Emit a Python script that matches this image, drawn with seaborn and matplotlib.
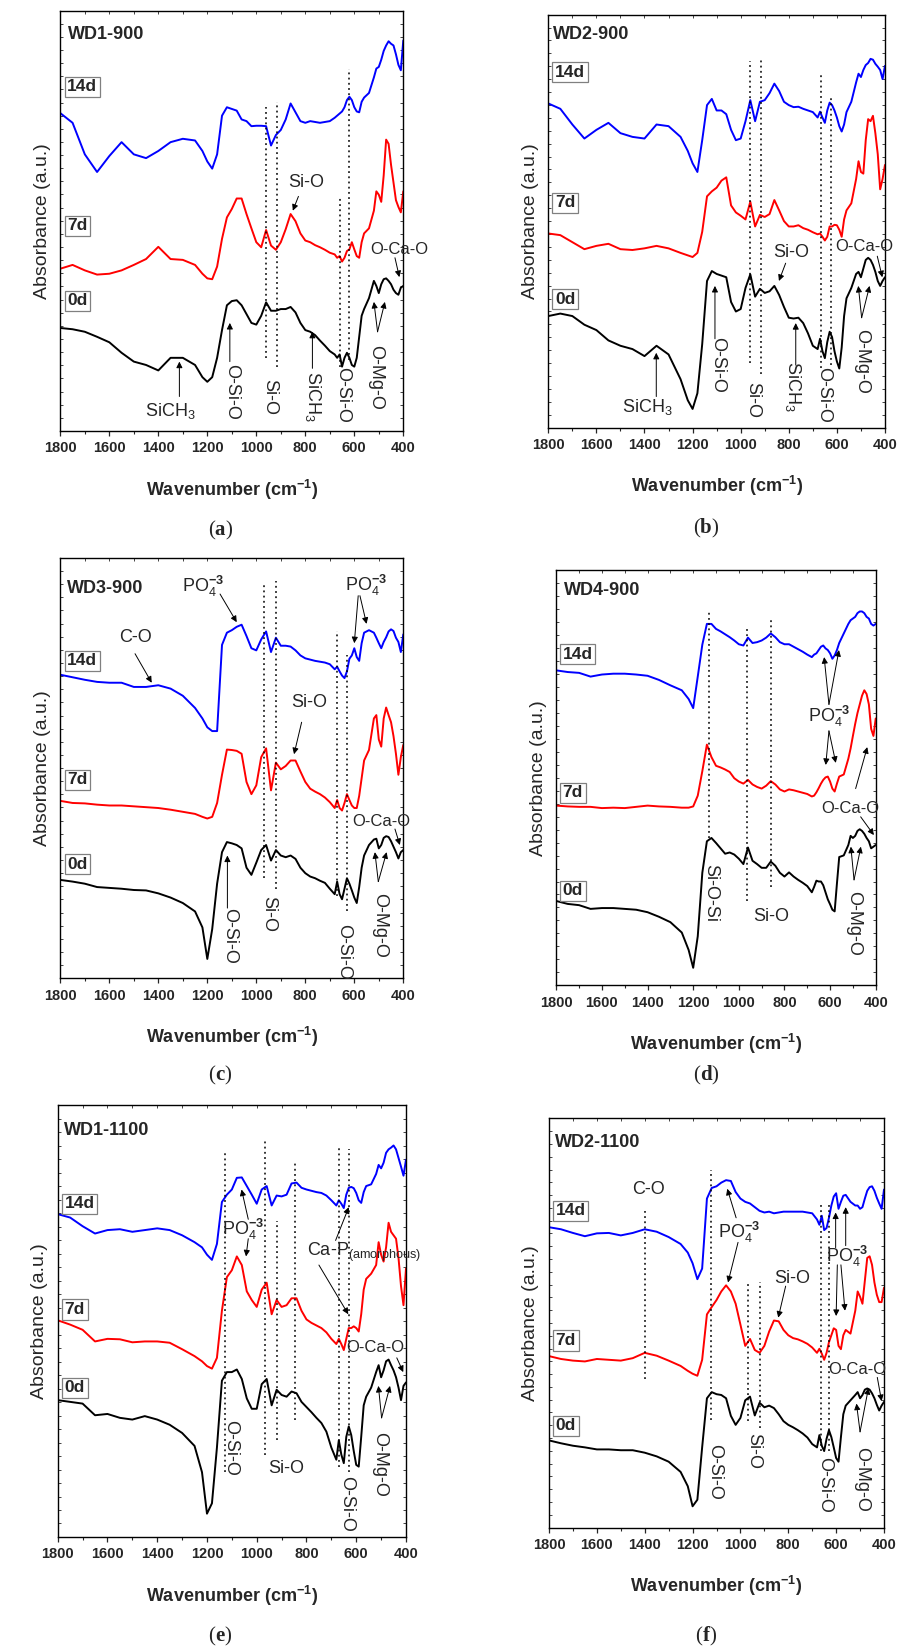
import seaborn as sns
import matplotlib.pyplot as plt
from matplotlib.ticker import MultipleLocator
from matplotlib.offsetbox import TextArea, HPacker, AnnotationBbox


# shared wavenumber grid (cm-1) for every spectrum
wavenumber = [1800, 1750, 1700, 1650, 1600, 1550, 1500, 1450, 1400, 1350, 1300, 1250,
              1220, 1200,
              1180, 1160, 1140, 1120, 1100, 1080, 1060, 1040, 1020, 1000, 980, 960, 940,
              920, 900, 880, 860, 840, 820, 800, 780, 760, 740, 720, 700, 680,
              670, 660, 650, 640, 630, 620, 610, 600, 590, 580, 570, 560,
              540, 520,
              510, 500, 490, 480, 470, 460, 450, 440, 430, 420, 410, 400]

xtick_values = [1800, 1600, 1400, 1200, 1000, 800, 600, 400]
day_labels = ["14d", "7d", "0d"]

# absorbance (a.u., stacked offsets as in the figure)
a_0d = [24.5, 24.2, 23.6, 22.4, 21.1, 18.6, 16.5, 15.7, 14.4, 17.4, 17.4, 15.7,
        12.8, 11.7,
        12.8, 17.4, 24.0, 29.9, 30.9, 31.1, 29.9, 27.8, 25.7, 25.3, 27.4, 30.6, 28.6,
        28.6, 29.0, 29.0, 29.5, 28.2, 25.7, 24.0, 23.6, 22.8, 21.5, 20.3, 19.0, 18.2,
        17.4, 18.2, 15.3, 17.4, 18.6, 17.4, 15.7, 15.3, 17.4, 22.4, 27.4, 29.0,
        31.6, 35.7,
        34.5, 32.8, 34.9, 36.1, 36.3, 35.7, 34.9, 33.6, 32.8, 32.4, 34.1, 34.5]
a_7d = [38.6, 39.5, 38.2, 37.2, 37.4, 38.2, 39.5, 40.9, 43.8, 40.9, 40.7, 39.5,
        37.4, 36.3,
        36.1, 39.1, 45.7, 50.8, 52.8, 55.3, 55.3, 51.6, 48.2, 44.9, 43.7, 47.8, 44.1,
        43.1, 44.9, 48.0, 51.6, 49.9, 47.0, 45.3, 44.9, 44.2, 43.7, 43.1, 42.4, 42.0,
        41.2, 41.6, 40.3, 41.2, 42.8, 43.2, 44.9, 43.2, 41.6, 41.2, 44.9, 47.0,
        48.2, 52.4,
        57.0, 56.2, 54.5, 60.8, 69.3, 68.3, 63.3, 59.1, 54.9, 53.3, 52.0, 57.0]
a_14d = [75.6, 73.3, 65.8, 61.6, 65.4, 68.7, 65.8, 64.9, 66.6, 68.7, 69.5, 69.1,
         66.6, 64.1,
         62.4, 65.8, 75.0, 77.0, 76.6, 76.2, 74.1, 73.7, 72.5, 72.6, 72.6, 72.5, 67.9,
         70.4, 71.6, 74.1, 77.9, 75.8, 73.7, 73.3, 73.7, 73.5, 73.3, 73.5, 73.7, 74.5,
         75.0, 75.5, 76.0, 77.0, 78.7, 79.5, 78.7, 77.0, 76.0, 75.8, 78.3, 79.3,
         80.4, 84.1,
         86.2, 86.6, 88.3, 90.4, 91.7, 92.7, 92.1, 91.7, 89.6, 87.1, 85.8, 92.9]

b_0d = [27.0, 27.6, 27.0, 24.9, 23.6, 21.1, 19.8, 19.0, 17.3, 19.8, 17.7, 11.7,
        6.6, 4.5,
        8.3, 20.2, 35.5, 37.9, 37.2, 36.8, 36.4, 30.4, 28.1, 28.7, 33.8, 37.1, 31.7,
        33.6, 32.6, 33.0, 34.3, 32.1, 29.2, 26.6, 26.4, 26.6, 25.3, 22.8, 19.8, 19.0,
        21.5, 18.5, 16.8, 20.7, 23.2, 21.9, 18.5, 16.0, 14.3, 19.4, 27.0, 31.3,
        33.8, 37.2,
        37.7, 36.4, 38.5, 40.6, 41.1, 40.6, 39.4, 37.7, 35.5, 34.3, 35.5, 36.4]
b_7d = [47.0, 46.6, 44.9, 43.2, 44.0, 44.5, 43.2, 43.0, 43.4, 44.0, 43.4, 42.3,
        41.7, 41.3,
        42.3, 47.4, 56.0, 57.2, 58.1, 59.8, 60.6, 53.8, 52.1, 51.3, 50.4, 54.7, 48.7,
        51.5, 51.0, 51.7, 55.1, 52.6, 50.0, 48.7, 48.7, 49.0, 48.3, 47.9, 47.3, 46.8,
        47.0, 46.2, 45.3, 46.2, 48.7, 48.7, 49.1, 49.0, 47.9, 46.2, 50.4, 52.6,
        54.3, 60.2,
        64.5, 61.9, 61.5, 69.6, 74.7, 74.2, 75.5, 71.3, 66.2, 57.7, 60.2, 63.6]
b_14d = [78.5, 77.2, 73.4, 70.0, 72.1, 73.8, 71.3, 70.4, 70.0, 73.4, 73.0, 70.4,
         67.0, 64.0,
         61.9, 69.6, 78.1, 79.6, 76.8, 76.8, 75.9, 72.1, 69.6, 70.0, 74.2, 79.3, 74.2,
         78.9, 79.3, 81.0, 83.3, 81.5, 78.9, 78.1, 77.6, 77.7, 77.2, 76.8, 76.4, 75.1,
         76.5, 75.1, 73.8, 76.8, 78.7, 78.1, 76.8, 75.1, 73.0, 71.7, 73.4, 76.4,
         78.9, 83.6,
         85.7, 84.9, 86.6, 87.8, 88.3, 89.3, 89.1, 88.1, 87.4, 86.6, 84.4, 87.6]

c_0d = [23.4, 23.0, 22.5, 21.7, 21.5, 21.3, 21.0, 20.9, 20.2, 19.2, 17.9, 15.9,
        12.1, 4.6,
        11.7, 22.5, 30.0, 32.4, 32.1, 31.7, 30.9, 26.3, 24.6, 27.5, 30.5, 31.7, 28.0,
        30.5, 29.2, 28.8, 29.2, 28.4, 26.3, 25.0, 24.2, 23.8, 23.2, 22.7, 21.3, 20.0,
        23.0, 20.0, 18.8, 21.3, 23.8, 22.5, 20.9, 19.2, 17.9, 21.7, 26.3, 29.2,
        31.7, 33.0,
        33.2, 30.9, 31.7, 33.4, 33.8, 33.6, 32.6, 31.3, 30.0, 28.5, 30.0, 30.5]
c_7d = [42.2, 41.7, 41.6, 41.3, 41.1, 41.1, 40.9, 40.7, 40.5, 40.1, 39.6, 39.1,
        38.4, 38.0,
        38.4, 41.7, 48.4, 54.4, 54.3, 54.1, 53.4, 46.7, 43.8, 45.9, 52.6, 54.7, 44.7,
        51.3, 49.7, 50.5, 51.8, 51.8, 49.2, 46.7, 45.1, 44.4, 43.8, 43.0, 41.9, 40.5,
        42.4, 40.5, 39.9, 41.7, 43.8, 42.4, 41.1, 40.5, 40.5, 43.4, 47.6, 51.8,
        54.3, 61.8,
        62.6, 56.8, 55.1, 61.8, 64.4, 62.6, 60.9, 57.6, 53.4, 48.4, 52.6, 55.5]
c_14d = [72.2, 71.6, 71.0, 70.5, 70.3, 70.3, 69.3, 69.3, 69.7, 68.9, 67.2, 64.3,
         61.8, 59.7,
         58.8, 58.8, 79.3, 82.2, 82.8, 83.6, 84.1, 81.4, 78.5, 78.0, 80.6, 82.5, 77.6,
         81.0, 79.1, 79.1, 78.9, 78.0, 76.8, 76.1, 75.8, 75.5, 75.3, 75.1, 74.7, 73.5,
         74.1, 73.0, 72.0, 71.4, 73.0, 76.0, 76.8, 78.5, 76.4, 75.5, 79.7, 82.2,
         82.8, 82.2,
         81.0, 79.7, 78.5, 80.0, 81.1, 82.5, 83.0, 82.6, 81.0, 80.0, 77.6, 81.8]

d_0d = [20.3, 19.6, 19.3, 18.4, 18.6, 18.6, 18.4, 18.2, 17.6, 16.5, 15.2, 12.7,
        8.5, 4.2,
        11.8, 27.1, 34.7, 35.5, 34.3, 33.0, 31.7, 32.0, 31.5, 30.5, 29.2, 33.2, 30.0,
        29.2, 28.3, 28.3, 29.8, 28.8, 27.1, 26.2, 27.2, 26.2, 25.4, 24.7, 23.9, 22.4,
        23.7, 25.2, 25.0, 25.0, 24.1, 22.4, 20.7, 19.5, 18.2, 17.8, 24.5, 30.9,
        31.3, 33.8,
        36.0, 35.5, 36.0, 37.2, 37.6, 37.2, 36.5, 35.5, 34.7, 33.0, 33.4, 33.8]
d_7d = [43.3, 43.1, 43.0, 43.0, 42.7, 42.8, 42.7, 43.0, 43.3, 43.1, 43.0, 42.8,
        42.8, 43.1,
        45.7, 51.6, 58.0, 55.0, 52.9, 52.5, 52.0, 51.4, 49.9, 49.1, 48.6, 49.5, 48.4,
        47.8, 47.4, 48.1, 49.2, 48.4, 47.2, 46.7, 47.2, 47.0, 46.7, 46.4, 46.1, 45.5,
        45.7, 46.5, 47.5, 48.6, 49.5, 50.1, 50.3, 49.1, 47.4, 46.7, 48.6, 50.3,
        50.8, 54.6,
        57.1, 60.1, 63.0, 65.6, 67.7, 69.8, 71.1, 70.2, 67.7, 61.8, 60.1, 64.3]
d_14d = [75.9, 75.5, 75.3, 74.4, 74.9, 75.1, 75.1, 74.9, 74.6, 73.6, 72.3, 71.1,
         69.0, 66.8,
         74.4, 82.1, 87.1, 87.1, 85.9, 85.3, 84.6, 83.9, 83.1, 82.2, 81.9, 83.8, 82.5,
         82.7, 83.1, 83.8, 84.8, 83.9, 82.7, 82.2, 82.2, 81.6, 81.0, 80.4, 79.7, 79.1,
         79.7, 80.0, 80.8, 81.6, 81.9, 81.2, 80.8, 80.0, 78.7, 79.5, 80.8, 82.5,
         84.8, 87.1,
         88.0, 88.4, 88.8, 89.7, 90.1, 90.1, 89.7, 88.8, 88.4, 87.1, 86.7, 87.1]

e_0d = [31.7, 31.3, 30.9, 28.2, 28.5, 27.6, 27.2, 28.0, 27.2, 26.0, 24.1, 21.1,
        15.0, 5.4,
        7.8, 20.7, 36.2, 38.2, 38.2, 38.8, 36.6, 32.1, 29.7, 29.7, 35.4, 36.6, 30.5,
        34.1, 32.9, 32.5, 33.7, 33.3, 31.3, 30.1, 28.9, 27.6, 26.4, 24.4, 20.7, 17.9,
        22.4, 19.1, 17.1, 23.2, 25.6, 23.6, 19.9, 16.7, 16.3, 23.2, 30.5, 32.5,
        34.6, 38.2,
        39.8, 37.0, 38.6, 40.7, 41.1, 39.8, 38.6, 37.0, 34.6, 31.7, 35.0, 35.8]
e_7d = [50.2, 49.2, 48.0, 45.3, 45.9, 45.8, 45.1, 45.3, 45.3, 45.0, 43.5, 41.9,
        40.7, 39.6,
        39.0, 41.5, 52.4, 60.2, 61.8, 65.0, 63.0, 56.9, 54.9, 53.3, 57.3, 58.9, 51.6,
        54.9, 53.3, 53.7, 55.3, 55.3, 52.4, 50.4, 49.6, 49.0, 48.4, 47.4, 45.9, 44.7,
        45.9, 44.7, 43.3, 45.9, 48.4, 48.4, 48.8, 48.4, 47.6, 51.6, 57.3, 59.8,
        61.0, 63.0,
        68.3, 65.4, 63.8, 67.1, 72.8, 70.7, 69.9, 69.1, 64.6, 58.1, 53.7, 62.2]
e_14d = [74.8, 74.0, 72.0, 70.3, 71.1, 71.3, 70.7, 71.1, 71.5, 71.1, 69.9, 68.3,
         67.1, 65.4,
         64.2, 67.9, 77.6, 79.3, 80.5, 83.2, 83.3, 81.3, 79.3, 77.2, 80.5, 81.3, 76.8,
         79.1, 78.9, 79.3, 81.9, 82.1, 80.9, 80.5, 80.2, 79.9, 79.7, 79.1, 78.0, 76.8,
         78.0, 77.2, 76.2, 79.3, 80.9, 81.1, 80.8, 79.7, 78.0, 77.4, 79.9, 81.3,
         81.7, 84.1,
         86.2, 85.4, 86.7, 89.0, 89.8, 90.2, 90.7, 89.8, 87.8, 85.8, 83.7, 87.4]

f_0d = [21.3, 20.6, 20.0, 19.6, 19.1, 19.1, 18.9, 18.9, 18.3, 17.4, 16.1, 13.6,
        10.1, 5.2,
        6.8, 19.6, 31.6, 33.1, 32.6, 32.4, 31.6, 27.3, 25.1, 26.8, 31.1, 32.0, 27.4,
        30.5, 29.4, 29.8, 29.2, 27.7, 26.0, 25.1, 24.5, 23.8, 23.0, 22.0, 20.4, 19.6,
        22.6, 20.0, 18.7, 21.7, 23.8, 22.1, 19.6, 17.0, 16.1, 22.1, 27.7, 29.8,
        31.1, 32.4,
        33.1, 31.6, 32.4, 33.7, 34.0, 33.7, 32.8, 31.6, 30.0, 28.6, 29.8, 30.7]
f_7d = [41.9, 41.2, 40.8, 40.6, 41.2, 41.0, 40.8, 41.4, 42.7, 42.0, 40.8, 39.5,
        38.3, 37.6,
        37.1, 41.0, 52.1, 53.9, 55.6, 57.7, 59.2, 57.7, 54.7, 49.6, 44.4, 46.1, 43.4,
        42.7, 44.4, 47.9, 50.6, 50.4, 48.3, 47.0, 46.3, 46.0, 45.5, 44.9, 44.0, 42.7,
        43.7, 42.5, 41.0, 42.7, 45.3, 47.0, 48.7, 48.3, 44.4, 43.6, 47.0, 48.3,
        47.4, 53.0,
        57.7, 56.4, 54.7, 60.3, 65.9, 66.3, 64.2, 59.9, 56.9, 55.1, 55.1, 58.6]
f_14d = [73.4, 72.9, 72.0, 71.2, 71.9, 72.0, 71.4, 72.0, 72.9, 72.3, 71.0, 69.3,
         67.2, 64.6,
         60.7, 63.3, 80.4, 83.0, 83.4, 84.3, 84.9, 84.7, 82.0, 80.4, 79.6, 79.2, 78.3,
         77.4, 77.0, 77.2, 76.8, 77.0, 77.2, 77.2, 77.2, 77.2, 77.2, 77.0, 76.8, 75.3,
         74.0, 76.2, 72.7, 73.2, 75.7, 78.7, 80.9, 81.7, 77.9, 79.6, 81.1, 81.3,
         79.6, 78.7,
         78.7, 77.9, 78.3, 80.4, 82.3, 83.2, 83.4, 82.3, 80.6, 79.2, 77.9, 82.6]

PO4 = r"PO$_4^{\mathbf{-3}}$"
SICH3 = r"SiCH$_3$"

# panel settings: axes rect (fig fraction), title, title pos, day label heights,
# dotted guide lines (wavenumber, from, to), and band annotations
panels = [
    dict(rect=[0.0671, 0.7388, 0.3815, 0.2548], title="WD1-900", tpos=(0.023, 0.944),
         curves=(a_14d, a_7d, a_0d), days=(81.9, 48.8, 31.0),
         guides=[(962, 17.4, 77.0), (917, 15.3, 78.3), (659, 15.3, 55.3), (620, 17.0, 86.2)],
         notes=[("Si-O", 795, 59.1, 0, [((828, 55.8), (851, 52.4))]),
                ("O-Ca-O", 416, 43.2, 0, [((434, 41.2), (416, 36.6))]),
                (SICH3, 1352, 4.8, 0, [((1314, 8.2), (1314, 16.5))]),
                ("O-Si-O", 1101, 9.3, -90, [((1108, 16.5), (1108, 25.7))]),
                ("Si-O", 947, 8.0, -90, []),
                (SICH3, 767, 8.3, -90, [((771, 14.9), (771, 23.6))]),
                ("O-Si-O", 649, 8.6, -90, []),
                ("O-Mg-O", 512, 12.8, -90, [((505, 23.6), (520, 30.7)), ((505, 23.6), (475, 30.7))])],
         letter="a", lpos=(220, 530)),
    dict(rect=[0.6099, 0.7409, 0.3745, 0.2502], title="WD2-900", tpos=(0.014, 0.951),
         curves=(b_14d, b_7d, b_0d), days=(86.1, 54.4, 31.1),
         guides=[(963, 15.6, 88.9), (914, 13.0, 89.5), (665, 14.3, 85.7), (626, 15.1, 79.8)],
         notes=[("Si-O", 788, 42.5, 0, [((813, 39.8), (841, 35.5))]),
                ("O-Ca-O", 487, 43.8, 0, [((432, 41.5), (411, 36.4))]),
                (SICH3, 1388, 4.9, 0, [((1351, 7.5), (1351, 18.1))]),
                ("O-Si-O", 1097, 15.1, -90, [((1107, 21.5), (1107, 34.3))]),
                ("Si-O", 949, 6.6, -90, []),
                (SICH3, 781, 10.0, -90, [((771, 15.1), (771, 25.3))]),
                ("O-Si-O", 654, 7.9, -90, []),
                ("O-Mg-O", 497, 16.0, -90, [((497, 26.6), (511, 34.3)), ((497, 26.6), (464, 34.3))])],
         letter="b", lpos=(706, 528)),
    dict(rect=[0.0671, 0.4071, 0.3815, 0.2548], title="WD3-900", tpos=(0.018, 0.928),
         curves=(c_14d, c_7d, c_0d), days=(75.5, 47.2, 27.1),
         guides=[(969, 23.8, 93.9), (921, 21.3, 94.5), (672, 19.6, 82.6), (631, 15.9, 76.8)],
         notes=[(PO4, 1216, 93.1, 0, [((1148, 91.4), (1080, 84.7))]),
                ("C-O", 1495, 81.0, 0, [((1495, 77.2), (1427, 70.3))]),
                (PO4, 550, 93.5, 0, [((584, 91.0), (600, 79.7)), ((577, 91.0), (550, 84.3))]),
                ("Si-O", 784, 65.5, 0, [((815, 60.9), (846, 53.3))]),
                ("O-Ca-O", 488, 37.4, 0, [((434, 35.5), (414, 31.7))]),
                ("O-Si-O", 1108, 10.0, -90, [((1118, 16.7), (1118, 29.2))]),
                ("Si-O", 951, 15.4, -90, []),
                ("O-Si-O", 645, 6.3, -90, []),
                ("O-Mg-O", 495, 12.5, -90, [((502, 23.0), (516, 30.0)), ((502, 23.0), (468, 30.0))])],
         letter="c", lpos=(220, 1075)),
    dict(rect=[0.6188, 0.4029, 0.3553, 0.2514], title="WD4-900", tpos=(0.024, 0.952),
         curves=(d_14d, d_7d, d_0d), days=(79.8, 46.4, 22.8),
         guides=[(1131, 35.5, 90.1), (963, 20.3, 86.7), (857, 23.7, 88.8)],
         notes=[(PO4, 605, 64.7, 0, [((605, 67.7), (626, 79.1)), ((605, 67.7), (561, 80.8)),
                                       ((605, 61.3), (619, 53.1)), ((605, 61.3), (575, 53.6))]),
                ("O-Ca-O", 510, 42.7, 0, [((488, 47.4), (437, 57.4)), ((466, 40.6), (408, 36.2))]),
                ("Si-O-Si", 1123, 22.2, -90, []),
                ("Si-O", 856, 16.5, 0, []),
                ("O-Mg-O", 498, 14.8, -90, [((495, 25.4), (509, 33.4)), ((495, 25.4), (465, 33.4))])],
         letter="d", lpos=(706, 1075)),
    dict(rect=[0.0642, 0.0685, 0.3874, 0.2616], title="WD1-1100", tpos=(0.019, 0.941),
         curves=(e_14d, e_7d, e_0d), days=(77.2, 52.7, 34.6),
         guides=[(1126, 15.0, 89.4), (967, 19.1, 92.1), (920, 22.4, 73.2), (847, 27.2, 87.0),
                 (668, 16.3, 90.2), (628, 15.0, 89.8)],
         notes=[(PO4, 1054, 71.3, 0, [((1034, 73.6), (1061, 80.5)), ((1034, 69.1), (1043, 65.0))]),
                (r"Ca-P$_{\mathrm{(amorphous)}}$", 612, 65.9, 0,
                 [((683, 68.7), (630, 76.4)), ((750, 63.0), (632, 51.6))]),
                ("O-Ca-O", 525, 43.9, 0, [((437, 41.5), (411, 38.2))]),
                ("O-Si-O", 1105, 20.7, -90, []),
                ("Si-O", 880, 15.9, 0, []),
                ("O-Si-O", 638, 7.7, -90, []),
                ("O-Mg-O", 505, 16.7, -90, [((498, 27.6), (511, 35.0)), ((498, 27.6), (464, 35.0))])],
         letter="e", lpos=(220, 1636)),
    dict(rect=[0.6107, 0.0742, 0.3726, 0.2480], title="WD2-1100", tpos=(0.018, 0.940),
         curves=(f_14d, f_7d, f_0d), days=(77.4, 45.7, 24.9),
         guides=[(1122, 26.4, 87.3), (1400, 36.3, 77.4), (968, 26.0, 60.3), (918, 24.3, 59.9),
                 (665, 18.7, 79.6), (630, 18.7, 79.2)],
         notes=[("C-O", 1385, 82.6, 0, []),
                (PO4, 1004, 72.0, 0, [((1018, 75.7), (1055, 82.8)), ((1010, 69.7), (1052, 59.9))]),
                (PO4, 556, 66.3, 0, [((602, 68.4), (602, 77.0)), ((560, 68.9), (560, 78.3)),
                                      ((595, 64.2), (600, 51.7)), ((580, 64.2), (563, 53.0))]),
                ("Si-O", 783, 60.9, 0, [((811, 59.0), (842, 51.3))]),
                ("O-Ca-O", 512, 38.6, 0, [((428, 36.7), (410, 30.9))]),
                ("O-Si-O", 1108, 13.6, -90, []),
                ("Si-O", 946, 18.7, -90, []),
                ("O-Si-O", 647, 10.5, -90, []),
                ("O-Mg-O", 493, 11.8, -90, [((500, 23.4), (515, 30.3)), ((500, 23.4), (465, 34.1))])],
         letter="f", lpos=(706, 1636)),
]

COLORS = ["blue", "red", "black"]


def draw_panel(fig, p) -> None:
    ax = fig.add_axes(p["rect"])

    for vals, color in zip(p["curves"], COLORS):
        sns.lineplot(x=wavenumber, y=vals, color=color, linewidth=1.4, ax=ax)

    # dotted guide lines
    gx = [g[0] for g in p["guides"]]
    ax.vlines(gx, [g[1] for g in p["guides"]], [g[2] for g in p["guides"]],
              colors="black", linestyles=(0, (1.2, 2.2)), linewidth=1.1)

    # band labels with arrows
    for text, x, y, rot, arrows in p["notes"]:
        size = 12 if text == "O-Ca-O" else 13
        ha = "center"
        if text.startswith("Ca-P"):
            ha = "left"
            x = 797
        ax.text(x, y, text, rotation=rot, ha=ha, va="center", fontsize=size)
        for start, end in arrows:
            ax.annotate("", xy=end, xytext=start,
                        arrowprops=dict(arrowstyle="-|>", color="black", lw=0.7,
                                        mutation_scale=9, shrinkA=0, shrinkB=0))

    for label, y in zip(day_labels, p["days"]):
        ax.text(0.02, y / 100, label, transform=ax.transAxes, ha="left", va="center",
                fontsize=12.5, fontweight="bold",
                bbox=dict(boxstyle="square,pad=0.15", fc="white", ec="#808080", lw=0.9))

    ax.text(p["tpos"][0], p["tpos"][1], p["title"], transform=ax.transAxes,
            ha="left", va="center", fontsize=13, fontweight="bold")

    ax.set_xlim(1800, 400)
    ax.set_ylim(0, 100)
    ax.set_xticks(xtick_values)
    ax.set_xticklabels([str(v) for v in xtick_values], fontweight="bold", fontsize=10.5)
    ax.xaxis.set_minor_locator(MultipleLocator(100))
    ax.tick_params(axis="x", which="major", direction="out", length=3.5, width=0.9, pad=4)
    ax.tick_params(axis="x", which="minor", direction="out", length=2.2, width=0.8)
    ax.yaxis.set_major_locator(MultipleLocator(100 / 32))
    ax.tick_params(axis="y", which="both", direction="in", left=True, right=True,
                   labelleft=False, length=2.2, width=0.6)
    top = ax.secondary_xaxis("top")
    top.set_xticks(xtick_values)
    top.xaxis.set_minor_locator(MultipleLocator(100))
    top.tick_params(axis="x", which="both", direction="in", length=2.2, width=0.6,
                    labeltop=False)
    for side in ax.spines.values():
        side.set_linewidth(1.0)
        side.set_color("black")
    top.spines["top"].set_visible(False)

    ax.set_xlabel(r"Wavenumber (cm$^{\mathbf{-1}}$)", fontsize=13, fontweight="bold",
                  labelpad=16)
    ax.set_ylabel("Absorbance (a.u.)", fontsize=14, labelpad=7)

    # panel letter: "(" + bold letter + ")"
    parts = [TextArea("(", textprops=dict(family="Liberation Serif", fontsize=15)),
             TextArea(p["letter"], textprops=dict(family="Liberation Serif", fontsize=15,
                                                  fontweight="bold")),
             TextArea(")", textprops=dict(family="Liberation Serif", fontsize=15))]
    box = HPacker(children=parts, align="baseline", pad=0, sep=0)
    fig.add_artist(AnnotationBbox(box, (p["lpos"][0] / 899, 1 - p["lpos"][1] / 1650),
                                  xycoords="figure fraction", frameon=False,
                                  box_alignment=(0.5, 0.5)))


def main() -> None:
    sns.set_style("ticks")
    plt.rcParams["font.family"] = ["Liberation Sans", "DejaVu Sans"]
    plt.rcParams["mathtext.fontset"] = "custom"
    plt.rcParams["mathtext.rm"] = "Liberation Sans"
    plt.rcParams["mathtext.it"] = "Liberation Sans:italic"
    plt.rcParams["mathtext.bf"] = "Liberation Sans:bold"

    fig = plt.figure(figsize=(8.99, 16.5), dpi=100)
    for p in panels:
        draw_panel(fig, p)
    fig.savefig("out.png", dpi=100)


if __name__ == "__main__":
    main()
